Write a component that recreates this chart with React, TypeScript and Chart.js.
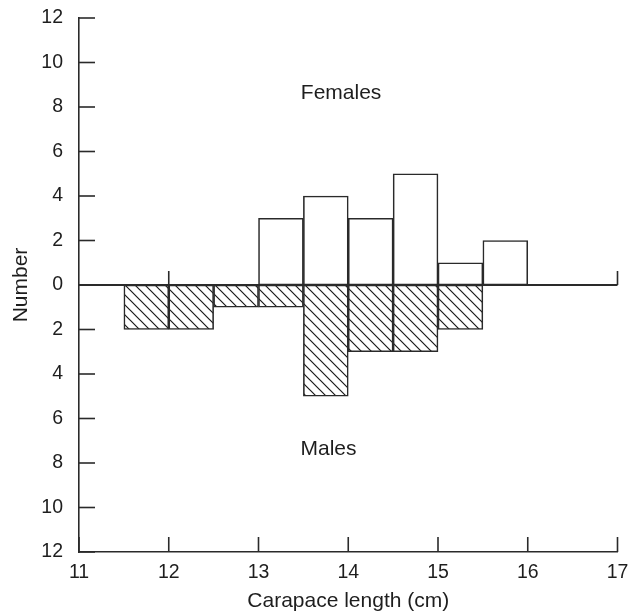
import React, { useEffect, useRef } from "react";
import { Chart, registerables } from "chart.js";

Chart.register(...registerables);

// ---- data ----
const femaleBins = [13.25, 13.75, 14.25, 14.75, 15.25, 15.75];
const femaleCounts = [3, 4, 3, 5, 1, 2];
const maleBins = [11.75, 12.25, 12.75, 13.25, 13.75, 14.25, 14.75, 15.25];
const maleCounts = [2, 2, 1, 1, 5, 3, 3, 2];
const xTicks = [11, 12, 13, 14, 15, 16, 17];
const yTicks = [-12, -10, -8, -6, -4, -2, 0, 2, 4, 6, 8, 10, 12];
const zeroLineMarks = [12, 17];
const groupLabelTexts = ["Females", "Males"];
const groupLabelX = [13.92, 13.78];
const groupLabelY = [8.6, -7.4];

const FONT = '"Liberation Sans", Arial, Helvetica, sans-serif';
const INK = "#2a2a2a";
const TEXT = "#1e1e1e";

function makeHatch(): CanvasPattern | string {
  const pc = document.createElement("canvas");
  pc.width = 10;
  pc.height = 10;
  const g = pc.getContext("2d");
  if (!g) return "#ffffff";
  g.fillStyle = "#ffffff";
  g.fillRect(0, 0, 10, 10);
  g.strokeStyle = "#1a1a1a";
  g.lineWidth = 1.2;
  g.beginPath();
  g.moveTo(-2, -2);
  g.lineTo(12, 12);
  g.moveTo(-2, 8);
  g.lineTo(2, 12);
  g.moveTo(8, -2);
  g.lineTo(12, 2);
  g.stroke();
  const p = g.createPattern(pc, "repeat");
  return p || "#ffffff";
}

const decorPlugin = {
  id: "decor",
  afterDatasetsDraw(chart: any) {
    const { ctx, scales } = chart;
    const x = scales.x;
    const y = scales.y;
    ctx.save();
    ctx.strokeStyle = INK;
    ctx.lineWidth = 1.6;
    // inward y ticks
    yTicks.forEach((v) => {
      const py = y.getPixelForValue(v);
      ctx.beginPath();
      ctx.moveTo(x.left, py);
      ctx.lineTo(x.left + 16, py);
      ctx.stroke();
    });
    // inward x ticks
    xTicks.forEach((v) => {
      const px = x.getPixelForValue(v);
      ctx.beginPath();
      ctx.moveTo(px, y.bottom);
      ctx.lineTo(px, y.bottom - 15);
      ctx.stroke();
    });
    // zero baseline
    const y0 = y.getPixelForValue(0);
    ctx.lineWidth = 1.8;
    ctx.beginPath();
    ctx.moveTo(x.getPixelForValue(xTicks[0]), y0);
    ctx.lineTo(x.getPixelForValue(xTicks[xTicks.length - 1]), y0);
    ctx.stroke();
    ctx.lineWidth = 1.6;
    zeroLineMarks.forEach((v) => {
      const px = x.getPixelForValue(v);
      ctx.beginPath();
      ctx.moveTo(px, y0);
      ctx.lineTo(px, y0 - 14);
      ctx.stroke();
    });
    // group labels
    ctx.fillStyle = TEXT;
    ctx.font = `21px ${FONT}`;
    ctx.textAlign = "center";
    ctx.textBaseline = "middle";
    groupLabelTexts.forEach((t, i) => {
      ctx.fillText(t, x.getPixelForValue(groupLabelX[i]), y.getPixelForValue(groupLabelY[i]));
    });
    ctx.restore();
  },
};

export default function App() {
  const canvasRef = useRef<HTMLCanvasElement | null>(null);

  useEffect(() => {
    const canvas = canvasRef.current;
    if (!canvas) return;
    const hatch = makeHatch();
    const chart = new Chart(canvas, {
      type: "bar",
      data: {
        datasets: [
          {
            label: "Females",
            data: femaleBins.map((b, i) => ({ x: b, y: femaleCounts[i] })),
            backgroundColor: "#ffffff",
            borderColor: INK,
            borderWidth: 1.6,
            borderSkipped: false,
            grouped: false,
            barPercentage: 1,
            categoryPercentage: 1,
          } as any,
          {
            label: "Males",
            data: maleBins.map((b, i) => ({ x: b, y: -maleCounts[i] })),
            backgroundColor: hatch as any,
            borderColor: INK,
            borderWidth: 1.6,
            borderSkipped: false,
            grouped: false,
            barPercentage: 1,
            categoryPercentage: 1,
          } as any,
        ],
      },
      options: {
        responsive: false,
        animation: false,
        layout: { padding: { top: 18, right: 18.5, left: 0, bottom: 0 } },
        plugins: {
          legend: { display: false },
          tooltip: { enabled: false },
        },
        scales: {
          x: {
            type: "linear",
            min: 11,
            max: 17,
            offset: false,
            grid: { display: false, drawTicks: false },
            border: { display: true, color: INK, width: 1.6 },
            afterBuildTicks: (s: any) => {
              s.ticks = xTicks.map((v) => ({ value: v }));
            },
            afterFit: (s: any) => {
              s.height = 60;
              s.paddingLeft = 0;
              s.paddingRight = 0;
            },
            ticks: {
              color: TEXT,
              padding: 9,
              font: { family: FONT, size: 19.5 },
              callback: (v: any) => String(v),
            },
            title: {
              display: true,
              text: "Carapace length (cm)",
              color: TEXT,
              font: { family: FONT, size: 21, lineHeight: 1 },
              padding: { top: 0, bottom: 0.7 },
            },
          },
          y: {
            type: "linear",
            min: -12,
            max: 12,
            grid: { display: false, drawTicks: false },
            border: { display: true, color: INK, width: 1.6 },
            afterBuildTicks: (s: any) => {
              s.ticks = yTicks.map((v) => ({ value: v }));
            },
            afterFit: (s: any) => {
              s.width = 79;
              s.paddingTop = 0;
              s.paddingBottom = 0;
            },
            ticks: {
              color: TEXT,
              padding: 16,
              font: { family: FONT, size: 19.5 },
              callback: (v: any) => String(Math.abs(Number(v))),
            },
            title: {
              display: true,
              text: "Number",
              color: TEXT,
              font: { family: FONT, size: 21, lineHeight: 1 },
              padding: { top: 11, bottom: 0 },
            },
          },
        },
      },
      plugins: [decorPlugin],
    });
    return () => chart.destroy();
  }, []);

  return (
    <div style={{ position: "fixed", left: 0, top: 0, width: 636, height: 612, background: "#ffffff" }}>
      <canvas ref={canvasRef} width={636} height={612} style={{ display: "block" }} />
    </div>
  );
}
